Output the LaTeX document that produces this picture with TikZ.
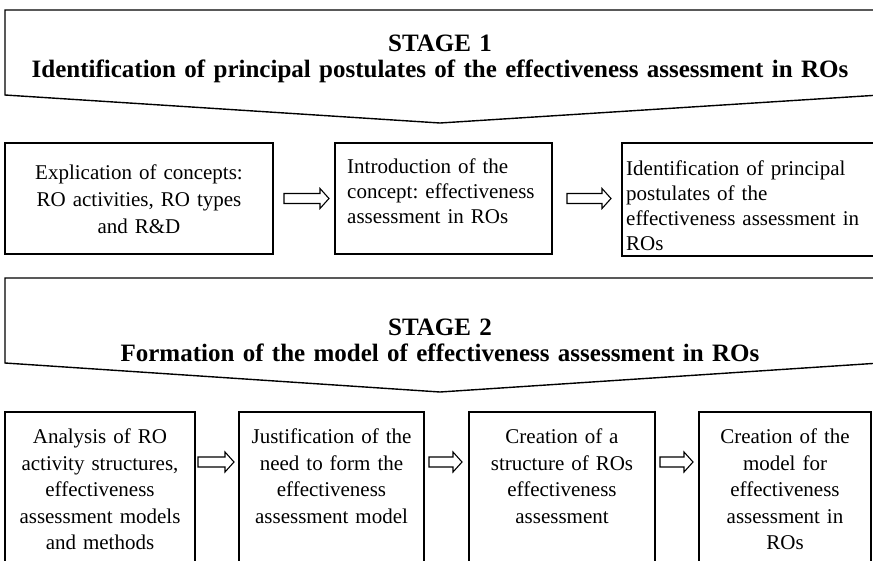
\documentclass[tikz,border=0pt]{standalone}
\usepackage{fontspec}
\setmainfont{Liberation Serif}
\usetikzlibrary{calc}
\frenchspacing
\tikzset{
  stagebox/.style={draw=black, line width=1.4pt, line join=miter},
  box/.style={draw=black, line width=1.3pt, inner sep=0pt, outer sep=0pt, anchor=north west},
  ttl/.style={font=\fontsize{25}{25.5}\selectfont\bfseries, inner sep=0pt, text width=860pt, align=center, anchor=north},
  txt/.style={font=\fontsize{21}{25}\selectfont, inner sep=0pt},
  txtb/.style={font=\fontsize{21}{26.5}\selectfont, inner sep=0pt, align=center, anchor=north},
  fat/.style={draw=black, line width=1.1pt, line join=miter, to path={
    ($(\tikztostart)+(0,-5)$) -- ($(\tikztotarget)+(-9,-5)$) -- ($(\tikztotarget)+(-9,-10)$)
    -- (\tikztotarget) -- ($(\tikztotarget)+(-9,10)$) -- ($(\tikztotarget)+(-9,5)$)
    -- ($(\tikztostart)+(0,5)$) -- cycle}},
}

\begin{document}
\begin{tikzpicture}[x=1pt, y=-1pt]
\useasboundingbox (0,0) rectangle (873,560);
\fill[white] (0,0) rectangle (873,560);
\clip (0,0) rectangle (873,560);

% ---------------- stage 1 ----------------
\draw[stagebox] (5,10) -- (880,10) -- (880,95) -- (440,123) -- (5,95) -- cycle;
\node[ttl] (st1) at (440,35) {STAGE 1\\Identification of principal postulates of the effectiveness assessment in ROs};

\node[box, minimum width=268pt, minimum height=111pt] (b11) at (5,143) {};
\node[box, minimum width=217pt, minimum height=111pt] (b12) at (335,143) {};
\node[box, minimum width=260pt, minimum height=113pt] (b13) at (622,143) {};

\node[txt, font=\fontsize{21}{27}\selectfont, text width=250pt, align=center, anchor=north] (t11) at (139,160.5)
  {\strut Explication of concepts:\\RO activities, RO types\\and R\&D};
\node[txt, text width=200pt, align=left, anchor=north west] (t12) at (347,155.5)
  {\strut Introduction of the\\concept: effectiveness\\assessment in ROs};
\node[txt, text width=240pt, align=left, anchor=north west] (t13) at (626,157.5)
  {\strut Identification of principal\\postulates of the\\effectiveness assessment in\\ROs};

\coordinate (p1) at ($(b11.east)+(11,0)$);
\coordinate (q1) at ($(b12.west)+(-6,0)$);
\coordinate (p2) at ($(b12.east)+(15,0)$);
\coordinate (q2) at ($(b13.west |- b12.east)+(-11,0)$);
\draw[fat] (p1) to (q1);
\draw[fat] (p2) to (q2);

% ---------------- stage 2 ----------------
\draw[stagebox] (5,278) -- (880,278) -- (880,363) -- (440,392) -- (5,363) -- cycle;
\node[ttl] (st2) at (440,319) {STAGE 2\\Formation of the model of effectiveness assessment in ROs};

\node[box, minimum width=190pt, minimum height=160pt] (b21) at (5,412) {};
\node[box, minimum width=185pt, minimum height=160pt] (b22) at (239,412) {};
\node[box, minimum width=186pt, minimum height=160pt] (b23) at (469,412) {};
\node[box, minimum width=172pt, minimum height=160pt] (b24) at (699,412) {};

\node[txtb, text width=185pt] (t21) at (100,425)
  {\strut Analysis of RO\\activity structures,\\effectiveness\\assessment models\\and methods};
\node[txtb, text width=180pt] (t22) at (331.5,425)
  {\strut Justification of the\\need to form the\\effectiveness\\assessment model};
\node[txtb, text width=180pt] (t23) at (562,425)
  {\strut Creation of a\\structure of ROs\\effectiveness\\assessment};
\node[txtb, text width=168pt] (t24) at (785,425)
  {\strut Creation of the\\model for\\effectiveness\\assessment in\\ROs};

\coordinate (p3) at ($(b21.north east)+(3,50)$);
\coordinate (q3) at ($(b22.north west)+(-5,50)$);
\coordinate (p4) at ($(b22.north east)+(5,50)$);
\coordinate (q4) at ($(b23.north west)+(-7,50)$);
\coordinate (p5) at ($(b23.north east)+(5,50)$);
\coordinate (q5) at ($(b24.north west)+(-6,50)$);
\draw[fat] (p3) to (q3);
\draw[fat] (p4) to (q4);
\draw[fat] (p5) to (q5);
\end{tikzpicture}
\end{document}
